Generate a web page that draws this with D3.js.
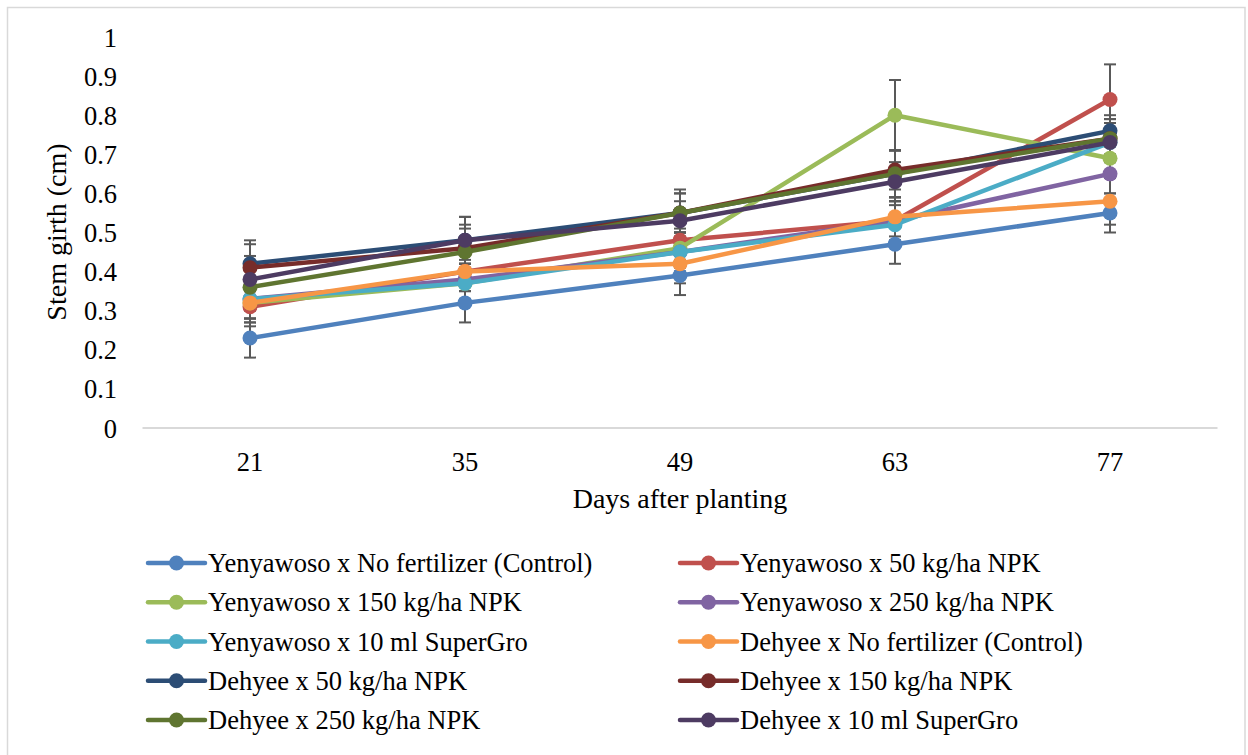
<!DOCTYPE html>
<html>
<head>
<meta charset="utf-8">
<script src="https://cdn.jsdelivr.net/npm/d3@7/dist/d3.min.js"></script>
<style>
  html, body { margin: 0; padding: 0; background: #fff; }
  svg { display: block; }
  text { font-family: "Liberation Serif", "Times New Roman", serif; fill: #000; }
</style>
</head>
<body>
<svg id="chart" width="1248" height="755"></svg>
<script>
const days = ["21", "35", "49", "63", "77"];
const yTicks = [0, 0.1, 0.2, 0.3, 0.4, 0.5, 0.6, 0.7, 0.8, 0.9, 1];

const seriesNames = [
  "Yenyawoso x No fertilizer (Control)",
  "Yenyawoso x 50 kg/ha NPK",
  "Yenyawoso x 150 kg/ha NPK",
  "Yenyawoso x 250 kg/ha NPK",
  "Yenyawoso x 10 ml SuperGro",
  "Dehyee x No fertilizer (Control)",
  "Dehyee x 50 kg/ha NPK",
  "Dehyee x 150 kg/ha NPK",
  "Dehyee x 250 kg/ha NPK",
  "Dehyee x 10 ml SuperGro"
];
const seriesColors = ["#4F81BD", "#C0504D", "#9BBB59", "#8064A2", "#4BACC6",
                      "#F79646", "#2C4D75", "#772C2A", "#5F7530", "#4D3B62"];

const yControl  = [0.23, 0.32, 0.39, 0.47, 0.55];
const y50       = [0.31, 0.40, 0.48, 0.53, 0.84];
const y150      = [0.32, 0.37, 0.46, 0.80, 0.69];
const y250      = [0.33, 0.38, 0.45, 0.53, 0.65];
const ySuper    = [0.33, 0.37, 0.45, 0.52, 0.73];
const dControl  = [0.32, 0.40, 0.42, 0.54, 0.58];
const d50       = [0.42, 0.48, 0.55, 0.65, 0.76];
const d150      = [0.41, 0.46, 0.55, 0.66, 0.74];
const d250      = [0.36, 0.45, 0.55, 0.65, 0.74];
const dSuper    = [0.38, 0.48, 0.53, 0.63, 0.73];

const eControl  = [0.05, 0.05, 0.05, 0.05, 0.05];
const e50       = [0.05, 0.05, 0.05, 0.05, 0.09];
const e150      = [0.05, 0.05, 0.05, 0.09, 0.05];
const e250      = [0.05, 0.05, 0.05, 0.05, 0.05];
const eSuper    = [0.05, 0.05, 0.05, 0.05, 0.05];
const eDControl = [0.05, 0.05, 0.05, 0.05, 0.06];
const eD50      = [0.06, 0.06, 0.06, 0.06, 0.04];
const eD150     = [0.06, 0.06, 0.05, 0.05, 0.05];
const eD250     = [0.06, 0.06, 0.05, 0.06, 0.05];
const eDSuper   = [0.06, 0.06, 0.05, 0.05, 0.05];

const allValues = [yControl, y50, y150, y250, ySuper, dControl, d50, d150, d250, dSuper];
const allErrors = [eControl, e50, e150, e250, eSuper, eDControl, eD50, eD150, eD250, eDSuper];

const series = seriesNames.map((name, i) => ({
  name, color: seriesColors[i],
  points: days.map((d, j) => ({ day: d, v: allValues[i][j], e: allErrors[i][j] }))
}));

const svg = d3.select("#chart");

// chart border
svg.append("rect").attr("x", 7.5).attr("y", 7.5).attr("width", 1237.5).attr("height", 760)
  .attr("fill", "#fff").attr("stroke", "#d9d9d9").attr("stroke-width", 1.5);

const x = d3.scaleBand().domain(days).range([142.5, 1217.5]);
const y = d3.scaleLinear().domain([0, 1]).range([428, 37]);
const cx = d => x(d) + x.bandwidth() / 2;

// y tick labels
svg.append("g").selectAll("text").data(yTicks).join("text")
  .attr("x", 117).attr("y", d => y(d)).attr("dy", "0.36em")
  .attr("text-anchor", "end").attr("font-size", 26.5)
  .text(d => d3.format("")(d));

// x axis line
svg.append("line").attr("x1", 142.5).attr("x2", 1217.5)
  .attr("y1", y(0)).attr("y2", y(0))
  .attr("stroke", "#d9d9d9").attr("stroke-width", 2);

// x tick labels
svg.append("g").selectAll("text").data(days).join("text")
  .attr("x", d => cx(d)).attr("y", 471)
  .attr("text-anchor", "middle").attr("font-size", 26.5)
  .text(d => d);

// axis titles
svg.append("text").attr("x", 680).attr("y", 508)
  .attr("text-anchor", "middle").attr("font-size", 28).text("Days after planting");
svg.append("text").attr("transform", "translate(66,232) rotate(-90)")
  .attr("text-anchor", "middle").attr("font-size", 28).text("Stem girth (cm)");

// error bars
const eb = svg.append("g").attr("stroke", "#595959").attr("stroke-width", 2);
series.forEach(s => {
  s.points.forEach(p => {
    const px = cx(p.day);
    eb.append("line").attr("x1", px).attr("x2", px)
      .attr("y1", y(p.v - p.e)).attr("y2", y(p.v + p.e));
    [p.v - p.e, p.v + p.e].forEach(v => {
      eb.append("line").attr("x1", px - 6).attr("x2", px + 6)
        .attr("y1", y(v)).attr("y2", y(v));
    });
  });
});

// lines and markers
const line = d3.line().x(p => cx(p.day)).y(p => y(p.v));
series.forEach(s => {
  const g = svg.append("g");
  g.append("path").datum(s.points).attr("d", line)
    .attr("fill", "none").attr("stroke", s.color).attr("stroke-width", 4.5)
    .attr("stroke-linejoin", "round").attr("stroke-linecap", "round");
  g.selectAll("circle").data(s.points).join("circle")
    .attr("cx", p => cx(p.day)).attr("cy", p => y(p.v)).attr("r", 7.5)
    .attr("fill", s.color);
});

// legend
const legend = svg.append("g");
series.forEach((s, i) => {
  const col = i % 2, row = Math.floor(i / 2);
  const lx = col === 0 ? 148 : 680;
  const ly = 563 + row * 39.25;
  const g = legend.append("g").attr("transform", `translate(${lx},${ly})`);
  g.append("line").attr("x1", 0).attr("x2", 57).attr("y1", 0).attr("y2", 0)
    .attr("stroke", s.color).attr("stroke-width", 4.5).attr("stroke-linecap", "round");
  g.append("circle").attr("cx", 28.5).attr("cy", 0).attr("r", 7.5).attr("fill", s.color);
  g.append("text").attr("x", 60).attr("y", 0).attr("dy", "0.34em")
    .attr("font-size", 26.5).text(s.name);
});
</script>
</body>
</html>
